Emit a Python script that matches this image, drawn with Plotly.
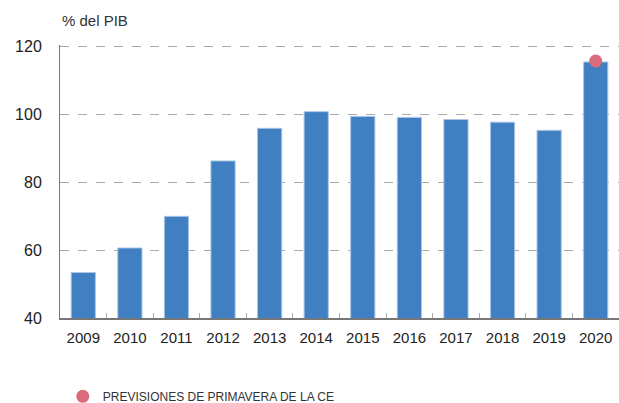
import plotly.graph_objects as go

years = ["2009", "2010", "2011", "2012", "2013", "2014", "2015", "2016", "2017", "2018", "2019", "2020"]
deuda = [53.4, 60.6, 69.9, 86.2, 95.8, 100.7, 99.3, 99.0, 98.4, 97.6, 95.2, 115.3]
prev_years = ["2020"]
prev_values = [115.6]

fig = go.Figure()

# Barras de deuda
fig.add_trace(go.Bar(
    x=years, y=deuda, width=0.52,
    marker=dict(color="#3f7fc2", line=dict(color="#a9c6e6", width=1)),
    showlegend=False,
))

# Previsiones de primavera
fig.add_trace(go.Scatter(
    x=prev_years, y=prev_values, mode="markers",
    name="PREVISIONES DE PRIMAVERA DE LA CE",
    marker=dict(color="#d96b7a", size=13),
))

fig.update_layout(
    width=619, height=411,
    margin=dict(l=60, r=0, t=45, b=86),
    plot_bgcolor="white", paper_bgcolor="white",
    font=dict(family="Liberation Sans, Arial, sans-serif", color="#222", size=15),
    legend=dict(
        orientation="h", x=0.005, y=-0.287, xanchor="left", yanchor="middle",
        font=dict(size=12, color="#333"),
        itemwidth=30,
    ),
    annotations=[dict(
        text="% del PIB", xref="paper", yref="paper", x=0.0, y=1.088,
        xanchor="left", yanchor="middle", showarrow=False,
        font=dict(size=15, color="#333"),
    )],
)

fig.update_xaxes(
    showline=True, linecolor="#777", linewidth=2,
    ticks="inside", tickson="boundaries", ticklen=5, tickcolor="#aaa",
    ticklabelstandoff=5,
    range=[-0.5, 11.5], showgrid=False, automargin=False,
)
fig.update_yaxes(
    range=[40, 120.3], tickvals=[40, 60, 80, 100, 120],
    showline=True, linecolor="#777", linewidth=1,
    showgrid=True, gridcolor="#aaa", griddash="dash", gridwidth=1,
    ticks="", ticklabelstandoff=14, zeroline=False, automargin=False,
    tickfont=dict(size=16),
)

# quitar el margen por defecto del body para que la figura ocupe la ventana
fig.write_html(
    "out.html",
    config={"displayModeBar": False},
    post_script="document.body.style.margin='0';",
)
